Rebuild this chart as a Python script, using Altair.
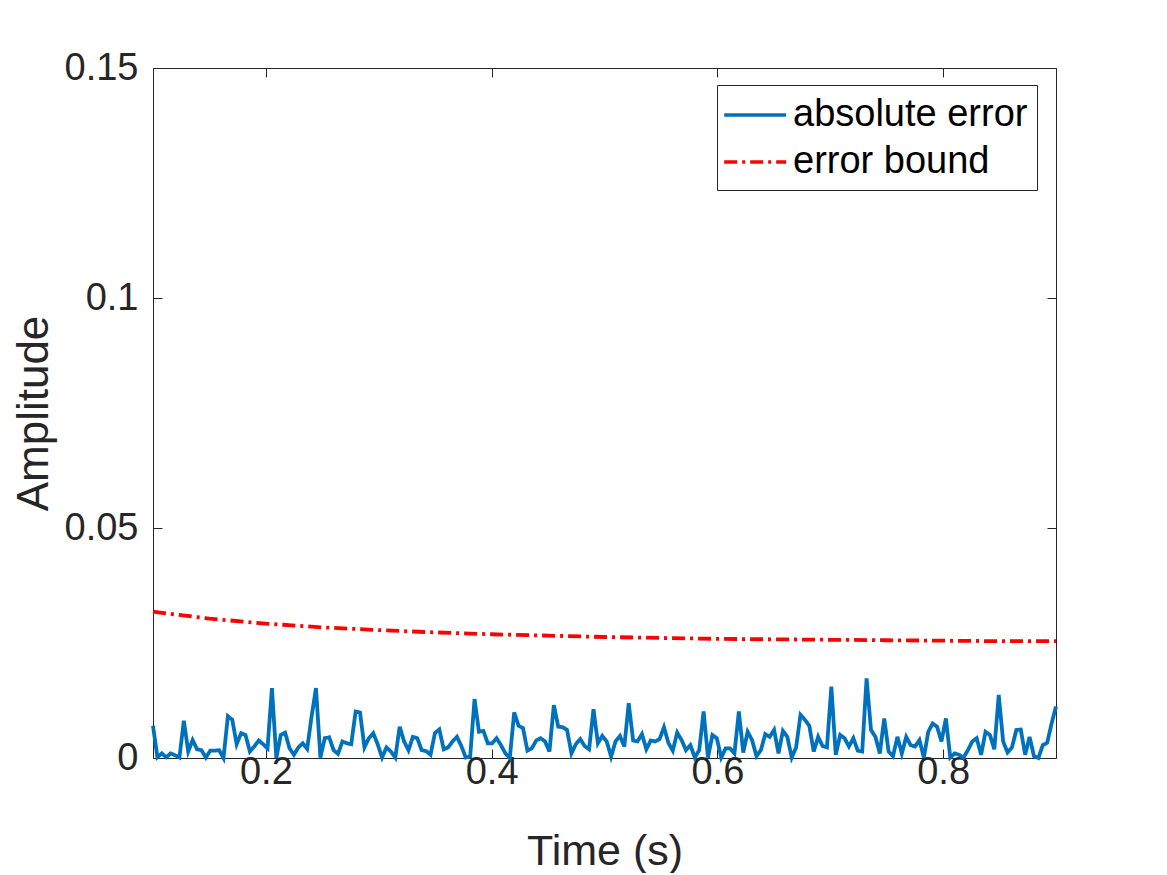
import altair as alt
import numpy as np
import pandas as pd

# absolute error samples (left to right)
abs_err = [
    0.0070, 0.00015, 0.0010, 0.00015, 0.0010, 0.0006, 0.0001, 0.0081, 0.0014, 0.0039,
    0.0019, 0.0017, 0.0001, 0.0016, 0.0016, 0.0017, 0.0, 0.0091, 0.0083, 0.0030,
    0.0054, 0.0050, 0.0014, 0.0025, 0.0038, 0.0030, 0.0021, 0.0152,
    0.0, 0.0050, 0.0055, 0.0021, 0.0007, 0.0023, 0.0032, 0.0020, 0.0090, 0.0152,
    0.0001, 0.0043, 0.0045, 0.0017, 0.0009, 0.0036, 0.0032, 0.0030, 0.0101, 0.0099,
    0.0023, 0.0043, 0.0054, 0.0030, 0.0001, 0.0023, 0.0014, 0.0001, 0.0068,
    0.0036, 0.0017, 0.0046, 0.0043, 0.0017, 0.0015, 0.0007, 0.0054, 0.0062, 0.0019,
    0.0023, 0.0036, 0.0046, 0.0026, 0.0001, 0.0003, 0.0128, 0.0057, 0.0059, 0.0032,
    0.0032, 0.0043, 0.0028, 0.0010, 0.0, 0.0099, 0.0070, 0.0065, 0.0016,
    0.0021, 0.0038, 0.0043, 0.0036, 0.0014, 0.0115, 0.0068, 0.0067, 0.0061, 0.0010,
    0.0030, 0.0041, 0.0026, 0.0019, 0.0106, 0.0032, 0.0048, 0.0036, 0.0003, 0.0036,
    0.0048, 0.0025, 0.0119, 0.0038, 0.0036, 0.0052, 0.0019, 0.0038, 0.0036, 0.0041, 0.0067,
    0.0033, 0.0016, 0.0055, 0.0039, 0.0017, 0.0028, 0.0001, 0.0017, 0.0101, 0.0001,
    0.0050, 0.0043, 0.0001, 0.0021, 0.0021, 0.0010, 0.0101, 0.0012, 0.0057, 0.0039,
    0.0004, 0.0017, 0.0052, 0.0046, 0.0061, 0.0010, 0.0059, 0.0046, 0.0001,
    0.0023, 0.0094, 0.0083, 0.0070, 0.0014, 0.0046, 0.0026, 0.0023, 0.0155, 0.0007,
    0.0050, 0.0043, 0.0025, 0.0043, 0.0016, 0.0014, 0.0173, 0.0061, 0.0046, 0.0010,
    0.0086, 0.0014, 0.0004, 0.0046, 0.0010, 0.0046, 0.0028, 0.0025, 0.0039, 0.0001,
    0.0057, 0.0075, 0.0068, 0.0036, 0.0086, 0.0001, 0.0010, 0.0007, 0.0001, 0.0017,
    0.0036, 0.0043, 0.0007, 0.0057, 0.0050, 0.0019, 0.0137, 0.0036, 0.0012, 0.0023,
    0.0061, 0.0062, 0.0007, 0.0046, 0.0004, 0.0, 0.0028, 0.0033, 0.0075, 0.0112,
]
t_start, t_end = 0.1, 0.9
t_abs = np.linspace(t_start, t_end, len(abs_err))

# error bound curve
bound_t = [0.10, 0.15, 0.20, 0.25, 0.30, 0.35, 0.40, 0.45, 0.50, 0.55,
           0.60, 0.65, 0.70, 0.75, 0.80, 0.85, 0.90]
bound_v = [0.0318, 0.0303, 0.0292, 0.0284, 0.0278, 0.0273, 0.0269, 0.0266, 0.0263,
           0.0261, 0.0259, 0.0258, 0.0257, 0.0256, 0.0255, 0.0254, 0.0254]

series_names = ["absolute error", "error bound"]
x_ticks = [0.2, 0.4, 0.6, 0.8]
y_ticks = [0, 0.05, 0.1, 0.15]

df = pd.concat([
    pd.DataFrame({"t": t_abs, "v": abs_err, "series": series_names[0]}),
    pd.DataFrame({"t": bound_t, "v": bound_v, "series": series_names[1]}),
], ignore_index=True)

FONT = "Liberation Sans"
TXT = "#262626"

xscale = alt.Scale(domain=[0.1, 0.9], nice=False, zero=False)
yscale = alt.Scale(domain=[0, 0.15], nice=False)

common_text = dict(labelFont=FONT, titleFont=FONT, labelColor=TXT, titleColor=TXT,
                   titleFontWeight="normal", grid=False, domain=False, ticks=False)

legend = alt.Legend(
    title=None, orient="none", legendX=564, legendY=17,
    strokeColor=TXT, fillColor="white", padding=9, rowPadding=7,
    labelFont=FONT, labelFontSize=38, labelColor="black", labelOffset=25, labelLimit=0,
    symbolType="M-1.2,0H2.06", symbolSize=1444, symbolStrokeWidth=3.5,
)

lines = alt.Chart(df).mark_line(strokeWidth=3.8).encode(
    x=alt.X("t:Q", scale=xscale, axis=alt.Axis(
        title="Time (s)", values=x_ticks, labelFontSize=38, titleFontSize=43,
        labelPadding=-5, titlePadding=39, **common_text)),
    y=alt.Y("v:Q", scale=yscale, axis=alt.Axis(
        title="Amplitude", values=y_ticks, labelExpr="format(datum.value, '.2~f')",
        labelFontSize=38, titleFontSize=44,
        labelPadding=15, titlePadding=8, **common_text)),
    color=alt.Color("series:N", scale=alt.Scale(domain=series_names, range=["#0072BD", "#FF0000"]),
                    legend=legend),
    strokeDash=alt.StrokeDash("series:N", scale=alt.Scale(domain=series_names,
                                                          range=[[1, 0], [13, 5, 3, 5]]),
                              legend=legend),
)


def tick_axis(orient, vals):
    return alt.Axis(orient=orient, values=vals, labels=False, domain=False, grid=False,
                    ticks=True, tickSize=9, tickColor=TXT, tickWidth=1, offset=-9, title=None)


ticks_bl = alt.Chart(df).mark_line(opacity=0).encode(
    x=alt.X("t:Q", scale=xscale, axis=tick_axis("bottom", x_ticks)),
    y=alt.Y("v:Q", scale=yscale, axis=tick_axis("left", y_ticks)),
)
ticks_tr = alt.Chart(df).mark_line(opacity=0).encode(
    x=alt.X("t:Q", scale=xscale, axis=tick_axis("top", x_ticks)),
    y=alt.Y("v:Q", scale=yscale, axis=tick_axis("right", y_ticks)),
)

chart = alt.layer(lines, ticks_bl, ticks_tr).resolve_axis(
    x="independent", y="independent"
).properties(
    width=903, height=690,
    padding={"left": 4, "top": 41, "right": 5, "bottom": 0},
    background="white",
).configure_view(stroke=TXT, strokeWidth=1)

chart.save("out.html", embed_options={"renderer": "svg", "actions": False})
